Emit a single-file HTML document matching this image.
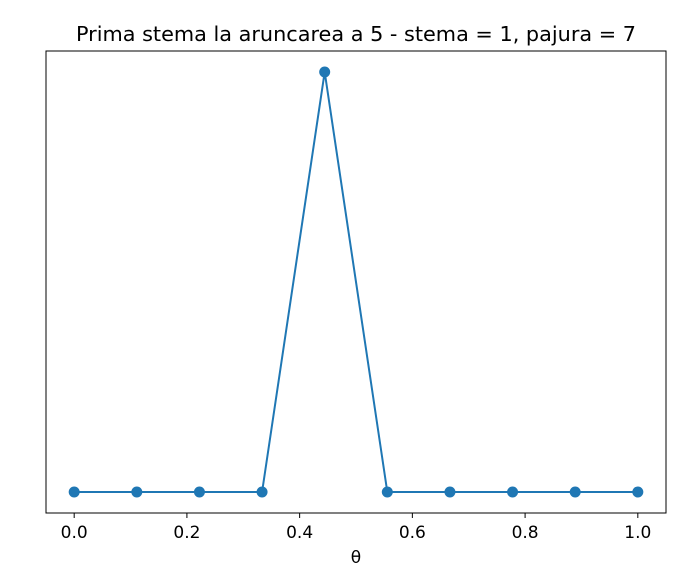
<!DOCTYPE html>
<html><head><meta charset="utf-8"><style>
body{margin:0;background:#fff;}
svg text{font-family:"DejaVu Sans","Liberation Sans",sans-serif;}
</style></head><body>
<svg width="690" height="574" viewBox="0 0 690 574">
<rect width="690" height="574" fill="#fff"/>
<text x="356" y="41" font-size="20.8" text-anchor="middle" fill="#000">Prima stema la aruncarea a 5 - stema = 1, pajura = 7</text>
<g id="ticks"></g>
<g id="plot"></g>
<rect x="46" y="51" width="620" height="462" fill="none" stroke="#000" stroke-width="1"/>
<text x="356" y="563" font-size="17" text-anchor="middle" fill="#000">θ</text>
</svg>
<script>
const xValues=[0,1/9,2/9,3/9,4/9,5/9,6/9,7/9,8/9,1];
const yValues=[0,0,0,0,1,0,0,0,0,0];
const xTicks=[0,0.2,0.4,0.6,0.8,1.0];
const xTickLabels=["0.0","0.2","0.4","0.6","0.8","1.0"];
const L=46,R=666,T=51,B=513;
const xMin=-0.05,xMax=1.05,yMin=-0.05,yMax=1.05;
const sx=v=>L+(v-xMin)/(xMax-xMin)*(R-L);
const sy=v=>B-(v-yMin)/(yMax-yMin)*(B-T);
const NS="http://www.w3.org/2000/svg";
const tg=document.getElementById('ticks');
xTicks.forEach((t,i)=>{
  const l=document.createElementNS(NS,'line');
  l.setAttribute('x1',sx(t));l.setAttribute('x2',sx(t));
  l.setAttribute('y1',B);l.setAttribute('y2',B+5);
  l.setAttribute('stroke','#000');
  
  
  tg.appendChild(l);
  const tx=document.createElementNS(NS,'text');
  tx.setAttribute('x',sx(t));tx.setAttribute('y',B+25);
  tx.setAttribute('font-size','17');tx.setAttribute('text-anchor','middle');
  tx.textContent=xTickLabels[i];
  
  
  tg.appendChild(tx);
});
const pg=document.getElementById('plot');
const pl=document.createElementNS(NS,'polyline');
pl.setAttribute('points',xValues.map((x,i)=>sx(x)+','+sy(yValues[i])).join(' '));
pl.setAttribute('fill','none');pl.setAttribute('stroke','#1f77b4');pl.setAttribute('stroke-width','2');


pg.appendChild(pl);
xValues.forEach((x,i)=>{
  const c=document.createElementNS(NS,'circle');
  c.setAttribute('cx',sx(x));c.setAttribute('cy',sy(yValues[i]));c.setAttribute('r','5.5');
  c.setAttribute('fill','#1f77b4');
  
  
  pg.appendChild(c);
});
</script>
</body></html>
